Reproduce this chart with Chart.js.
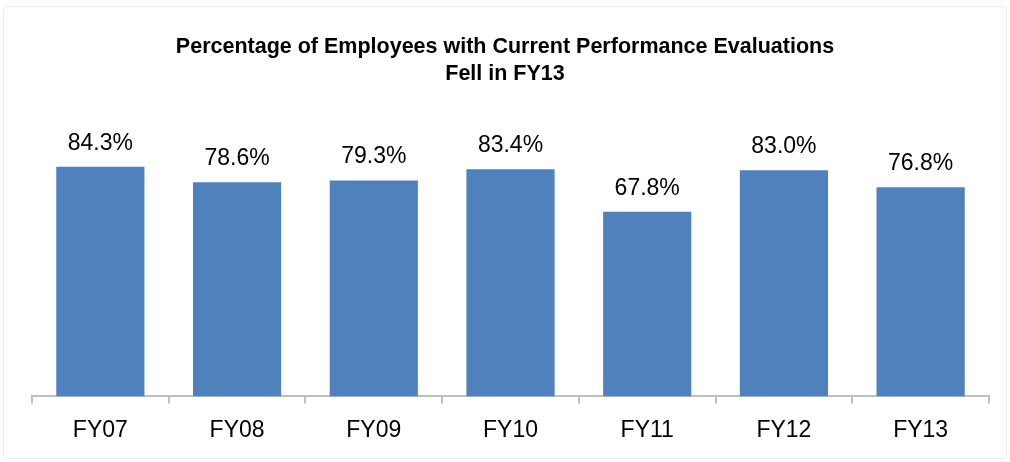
<!DOCTYPE html>
<html>
<head>
<meta charset="utf-8">
<script src="https://cdn.jsdelivr.net/npm/chart.js@4/dist/chart.umd.min.js"></script>
<style>
  html, body { margin: 0; padding: 0; background: #fff; }
  #wrap { position: relative; width: 1010px; height: 462px; }
  #wrap::after {
    content: ""; position: absolute; left: 3px; top: 6px; right: 3px; bottom: 3px;
    border: 1px solid #ececec; border-radius: 4px; pointer-events: none;
  }
</style>
</head>
<body>
<div id="wrap"><canvas id="evalChart" width="1010" height="462"></canvas></div>
<script>
const FONT = '"Liberation Sans Narrow", "Arial Narrow", "Liberation Sans", Arial, sans-serif';

const years  = ["FY07", "FY08", "FY09", "FY10", "FY11", "FY12", "FY13"];
const pctEvaluated = [84.3, 78.6, 79.3, 83.4, 67.8, 83.0, 76.8];
const titleLines = ["Percentage of Employees with Current Performance Evaluations", "Fell in FY13"];

// title centred on the whole canvas, value above each bar
const annotate = {
  id: "annotate",
  afterDatasetsDraw(chart) {
    const { ctx } = chart;
    ctx.save();
    ctx.fillStyle = "#000";
    ctx.textAlign = "center";
    ctx.textBaseline = "middle";
    ctx.font = "bold 21.5px " + FONT;
    titleLines.forEach((line, i) => ctx.fillText(line, chart.width / 2, 47 + i * 27));

    ctx.font = "23px " + FONT;
    ctx.textBaseline = "alphabetic";
    chart.getDatasetMeta(0).data.forEach((bar, i) => {
      ctx.fillText(pctEvaluated[i].toFixed(1) + "%", bar.x, bar.y - 17);
    });
    ctx.restore();
  }
};

const ctx = document.getElementById("evalChart").getContext("2d");
new Chart(ctx, {
  type: "bar",
  data: {
    labels: years,
    datasets: [{
      data: pctEvaluated,
      backgroundColor: "#4f81bd",
      borderWidth: 0,
      categoryPercentage: 1,
      barPercentage: 0.645
    }]
  },
  options: {
    responsive: false,
    animation: false,
    layout: { padding: { left: 32, right: 21, top: 124, bottom: 5 } },
    plugins: {
      legend: { display: false },
      tooltip: { enabled: false },
      title: { display: false }
    },
    scales: {
      x: {
        grid: {
          offset: true,
          drawOnChartArea: false,
          drawTicks: true,
          tickLength: 7,
          color: "#bfbfbf",
          lineWidth: 2
        },
        border: { color: "#bfbfbf", width: 2 },
        ticks: {
          color: "#000",
          padding: 13,
          font: { family: FONT, size: 23 }
        }
      },
      y: {
        display: false,
        min: 0,
        max: 100
      }
    }
  },
  plugins: [annotate]
});
</script>
</body>
</html>
